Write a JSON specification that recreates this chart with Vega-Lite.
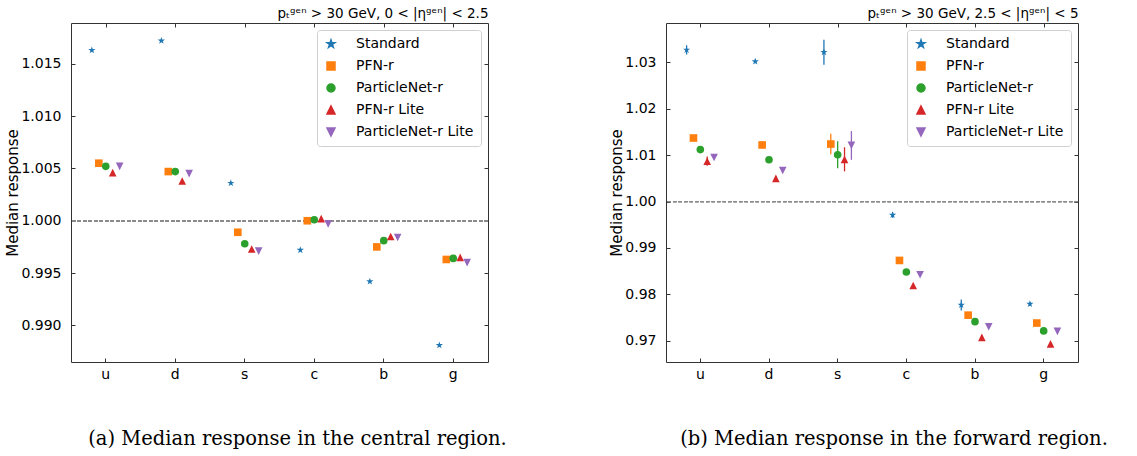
{
  "$schema": "https://vega.github.io/schema/vega-lite/v6.json",
  "padding": {"left": 5, "top": 6, "right": 5, "bottom": 0},
  "spacing": 101,
  "background": "white",
  "config": {
    "font": "DejaVu Sans",
    "view": {"stroke": "#333333", "strokeWidth": 1},
    "axis": {"domain": false, "grid": false, "tickColor": "#333333", "tickSize": -4, "tickWidth": 1, "labelFontSize": 14, "labelColor": "#000000", "titleFontSize": 15, "titleFontWeight": "normal", "titleColor": "#000000", "labelPadding": 10},
    "legend": {"titleFontSize": 0}
  },
  "datasets": {
    "central": [
      {"cat": "u", "model": "Standard", "value": 1.0163, "err": 0.00012},
      {"cat": "d", "model": "Standard", "value": 1.0172, "err": 0.00012},
      {"cat": "s", "model": "Standard", "value": 1.0036, "err": 0.00012},
      {"cat": "c", "model": "Standard", "value": 0.9972, "err": 0.00012},
      {"cat": "b", "model": "Standard", "value": 0.9942, "err": 0.00012},
      {"cat": "g", "model": "Standard", "value": 0.9881, "err": 0.00012},
      {"cat": "u", "model": "PFN-r", "value": 1.0055, "err": 0.0001},
      {"cat": "d", "model": "PFN-r", "value": 1.0047, "err": 0.0001},
      {"cat": "s", "model": "PFN-r", "value": 0.9989, "err": 0.0001},
      {"cat": "c", "model": "PFN-r", "value": 1.0000, "err": 0.0001},
      {"cat": "b", "model": "PFN-r", "value": 0.9975, "err": 0.0001},
      {"cat": "g", "model": "PFN-r", "value": 0.9963, "err": 0.0001},
      {"cat": "u", "model": "ParticleNet-r", "value": 1.0052, "err": 0.0001},
      {"cat": "d", "model": "ParticleNet-r", "value": 1.0047, "err": 0.0001},
      {"cat": "s", "model": "ParticleNet-r", "value": 0.9978, "err": 0.0001},
      {"cat": "c", "model": "ParticleNet-r", "value": 1.0001, "err": 0.0001},
      {"cat": "b", "model": "ParticleNet-r", "value": 0.9981, "err": 0.0001},
      {"cat": "g", "model": "ParticleNet-r", "value": 0.9964, "err": 0.0001},
      {"cat": "u", "model": "PFN-r Lite", "value": 1.0046, "err": 0.0001},
      {"cat": "d", "model": "PFN-r Lite", "value": 1.0038, "err": 0.0001},
      {"cat": "s", "model": "PFN-r Lite", "value": 0.9973, "err": 0.0001},
      {"cat": "c", "model": "PFN-r Lite", "value": 1.0002, "err": 0.0001},
      {"cat": "b", "model": "PFN-r Lite", "value": 0.9985, "err": 0.0001},
      {"cat": "g", "model": "PFN-r Lite", "value": 0.9965, "err": 0.0001},
      {"cat": "u", "model": "ParticleNet-r Lite", "value": 1.0052, "err": 0.0001},
      {"cat": "d", "model": "ParticleNet-r Lite", "value": 1.0045, "err": 0.0001},
      {"cat": "s", "model": "ParticleNet-r Lite", "value": 0.9971, "err": 0.0001},
      {"cat": "c", "model": "ParticleNet-r Lite", "value": 0.9997, "err": 0.0001},
      {"cat": "b", "model": "ParticleNet-r Lite", "value": 0.9984, "err": 0.0001},
      {"cat": "g", "model": "ParticleNet-r Lite", "value": 0.9960, "err": 0.0001}
    ],
    "forward": [
      {"cat": "u", "model": "Standard", "value": 1.0327, "err": 0.0010},
      {"cat": "d", "model": "Standard", "value": 1.0302, "err": 0.0004},
      {"cat": "s", "model": "Standard", "value": 1.0322, "err": 0.0027},
      {"cat": "c", "model": "Standard", "value": 0.9971, "err": 0.0006},
      {"cat": "b", "model": "Standard", "value": 0.9777, "err": 0.0012},
      {"cat": "g", "model": "Standard", "value": 0.9779, "err": 0.0004},
      {"cat": "u", "model": "PFN-r", "value": 1.0137, "err": 0.0005},
      {"cat": "d", "model": "PFN-r", "value": 1.0122, "err": 0.0003},
      {"cat": "s", "model": "PFN-r", "value": 1.0124, "err": 0.0022},
      {"cat": "c", "model": "PFN-r", "value": 0.9873, "err": 0.0003},
      {"cat": "b", "model": "PFN-r", "value": 0.9755, "err": 0.0006},
      {"cat": "g", "model": "PFN-r", "value": 0.9738, "err": 0.0003},
      {"cat": "u", "model": "ParticleNet-r", "value": 1.0112, "err": 0.0004},
      {"cat": "d", "model": "ParticleNet-r", "value": 1.0090, "err": 0.0003},
      {"cat": "s", "model": "ParticleNet-r", "value": 1.0101, "err": 0.0029},
      {"cat": "c", "model": "ParticleNet-r", "value": 0.9848, "err": 0.0003},
      {"cat": "b", "model": "ParticleNet-r", "value": 0.9741, "err": 0.0005},
      {"cat": "g", "model": "ParticleNet-r", "value": 0.9721, "err": 0.0003},
      {"cat": "u", "model": "PFN-r Lite", "value": 1.0087, "err": 0.0010},
      {"cat": "d", "model": "PFN-r Lite", "value": 1.0050, "err": 0.0004},
      {"cat": "s", "model": "PFN-r Lite", "value": 1.0091, "err": 0.0026},
      {"cat": "c", "model": "PFN-r Lite", "value": 0.9819, "err": 0.0003},
      {"cat": "b", "model": "PFN-r Lite", "value": 0.9707, "err": 0.0004},
      {"cat": "g", "model": "PFN-r Lite", "value": 0.9693, "err": 0.0003},
      {"cat": "u", "model": "ParticleNet-r Lite", "value": 1.0095, "err": 0.0004},
      {"cat": "d", "model": "ParticleNet-r Lite", "value": 1.0067, "err": 0.0003},
      {"cat": "s", "model": "ParticleNet-r Lite", "value": 1.0121, "err": 0.0031},
      {"cat": "c", "model": "ParticleNet-r Lite", "value": 0.9842, "err": 0.0003},
      {"cat": "b", "model": "ParticleNet-r Lite", "value": 0.9730, "err": 0.0003},
      {"cat": "g", "model": "ParticleNet-r Lite", "value": 0.9720, "err": 0.0003}
    ]
  },
  "resolve": {"scale": {"color": "independent", "shape": "independent", "xOffset": "independent"}},
  "hconcat": [
    {
      "width": 417,
      "height": 339,
      "data": {"name": "central"},
      "title": {"text": "(a) Median response in the central region.", "orient": "bottom", "font": "DejaVu Serif", "fontSize": 19.5, "fontWeight": "normal", "color": "#000000", "offset": 49, "anchor": "middle", "dx": 18},
      "layer": [
        {
          "mark": {"type": "rule", "color": "#8c8c8c", "strokeDash": [3.5, 2], "strokeWidth": 0.9},
          "encoding": {
            "y": {"datum": 1, "type": "quantitative", "scale": {"domain": [0.9865, 1.0189], "nice": false, "zero": false},
                  "axis": {"orient": "right", "labels": false, "title": null, "values": [0.990, 0.995, 1.000, 1.005, 1.010, 1.015]}}
          }
        },
        {
          "mark": {"type": "point", "opacity": 0},
          "encoding": {
            "x": {"field": "cat", "type": "nominal", "scale": {"domain": ["u", "d", "s", "c", "b", "g"], "paddingInner": 0, "paddingOuter": 0},
                  "axis": {"orient": "top", "labels": false, "title": "pₜᵍᵉⁿ > 30 GeV, 0 < |ηᵍᵉⁿ| < 2.5", "titleAnchor": "end", "titleFontSize": 13.5, "titlePadding": 2}}
          }
        },
        {
          "mark": {"type": "errorbar", "ticks": false, "thickness": 1.3},
          "encoding": {
            "x": {"field": "cat", "type": "nominal", "scale": {"domain": ["u", "d", "s", "c", "b", "g"], "paddingInner": 0, "paddingOuter": 0}, "axis": null},
            "xOffset": {"field": "model", "type": "nominal", "scale": {"type": "point", "domain": ["_1", "_2", "_3", "Standard", "PFN-r", "ParticleNet-r", "PFN-r Lite", "ParticleNet-r Lite", "_4", "_5", "_6"], "padding": 0}},
            "y": {"field": "value", "type": "quantitative", "scale": {"domain": [0.9865, 1.0189], "nice": false, "zero": false}, "axis": null},
            "yError": {"field": "err"},
            "color": {"field": "model", "type": "nominal", "scale": {"domain": ["Standard", "PFN-r", "ParticleNet-r", "PFN-r Lite", "ParticleNet-r Lite"], "range": ["#1f77b4", "#ff7f0e", "#2ca02c", "#d62728", "#9467bd"]}}
          }
        },
        {
          "mark": {"type": "point", "filled": true, "opacity": 1, "size": 58},
          "encoding": {
            "x": {"field": "cat", "type": "nominal", "scale": {"domain": ["u", "d", "s", "c", "b", "g"], "paddingInner": 0, "paddingOuter": 0},
                  "axis": {"labelAngle": 0, "title": null, "labelPadding": 9}},
            "xOffset": {"field": "model", "type": "nominal", "scale": {"type": "point", "domain": ["_1", "_2", "_3", "Standard", "PFN-r", "ParticleNet-r", "PFN-r Lite", "ParticleNet-r Lite", "_4", "_5", "_6"], "padding": 0}},
            "y": {"field": "value", "type": "quantitative", "scale": {"domain": [0.9865, 1.0189], "nice": false, "zero": false},
                  "axis": {"title": "Median response", "values": [0.990, 0.995, 1.000, 1.005, 1.010, 1.015], "format": ".3f", "labelPadding": 14, "titlePadding": 0}},
            "color": {"field": "model", "type": "nominal", "scale": {"domain": ["Standard", "PFN-r", "ParticleNet-r", "PFN-r Lite", "ParticleNet-r Lite"], "range": ["#1f77b4", "#ff7f0e", "#2ca02c", "#d62728", "#9467bd"]},
                      "legend": {"title": null, "orient": "top-right", "offset": 7, "padding": 7, "strokeColor": "#d0d0d0", "fillColor": "#ffffff", "cornerRadius": 3, "labelFontSize": 14, "labelColor": "#000000", "rowPadding": 8, "symbolSize": 64, "labelOffset": 18}},
            "shape": {"field": "model", "type": "nominal", "scale": {"domain": ["Standard", "PFN-r", "ParticleNet-r", "PFN-r Lite", "ParticleNet-r Lite"], "range": ["M0,-1L0.2245,-0.309L0.9511,-0.309L0.3633,0.118L0.5878,0.809L0,0.382L-0.5878,0.809L-0.3633,0.118L-0.9511,-0.309L-0.2245,-0.309Z", "square", "circle", "M0,-1L1,1L-1,1Z", "M0,1L1,-1L-1,-1Z"]},
                      "legend": {"title": null, "orient": "top-right", "offset": 7, "padding": 7, "strokeColor": "#d0d0d0", "fillColor": "#ffffff", "cornerRadius": 3, "labelFontSize": 14, "labelColor": "#000000", "rowPadding": 8, "symbolSize": 64, "labelOffset": 18}}
          }
        }
      ],
      "resolve": {"scale": {"x": "independent", "y": "independent"}}
    },
    {
      "width": 412,
      "height": 339,
      "data": {"name": "forward"},
      "title": {"text": "(b) Median response in the forward region.", "orient": "bottom", "font": "DejaVu Serif", "fontSize": 19.5, "fontWeight": "normal", "color": "#000000", "offset": 49, "anchor": "middle", "dx": 22},
      "layer": [
        {
          "mark": {"type": "rule", "color": "#8c8c8c", "strokeDash": [3.5, 2], "strokeWidth": 0.9},
          "encoding": {
            "y": {"datum": 1, "type": "quantitative", "scale": {"domain": [0.9654, 1.0385], "nice": false, "zero": false},
                  "axis": {"orient": "right", "labels": false, "title": null, "values": [0.97, 0.98, 0.99, 1.00, 1.01, 1.02, 1.03]}}
          }
        },
        {
          "mark": {"type": "point", "opacity": 0},
          "encoding": {
            "x": {"field": "cat", "type": "nominal", "scale": {"domain": ["u", "d", "s", "c", "b", "g"], "paddingInner": 0, "paddingOuter": 0},
                  "axis": {"orient": "top", "labels": false, "title": "pₜᵍᵉⁿ > 30 GeV, 2.5 < |ηᵍᵉⁿ| < 5", "titleAnchor": "end", "titleFontSize": 13.5, "titlePadding": 2}}
          }
        },
        {
          "mark": {"type": "errorbar", "ticks": false, "thickness": 1.3},
          "encoding": {
            "x": {"field": "cat", "type": "nominal", "scale": {"domain": ["u", "d", "s", "c", "b", "g"], "paddingInner": 0, "paddingOuter": 0}, "axis": null},
            "xOffset": {"field": "model", "type": "nominal", "scale": {"type": "point", "domain": ["_1", "_2", "_3", "Standard", "PFN-r", "ParticleNet-r", "PFN-r Lite", "ParticleNet-r Lite", "_4", "_5", "_6"], "padding": 0}},
            "y": {"field": "value", "type": "quantitative", "scale": {"domain": [0.9654, 1.0385], "nice": false, "zero": false}, "axis": null},
            "yError": {"field": "err"},
            "color": {"field": "model", "type": "nominal", "scale": {"domain": ["Standard", "PFN-r", "ParticleNet-r", "PFN-r Lite", "ParticleNet-r Lite"], "range": ["#1f77b4", "#ff7f0e", "#2ca02c", "#d62728", "#9467bd"]}}
          }
        },
        {
          "mark": {"type": "point", "filled": true, "opacity": 1, "size": 58},
          "encoding": {
            "x": {"field": "cat", "type": "nominal", "scale": {"domain": ["u", "d", "s", "c", "b", "g"], "paddingInner": 0, "paddingOuter": 0},
                  "axis": {"labelAngle": 0, "title": null, "labelPadding": 9}},
            "xOffset": {"field": "model", "type": "nominal", "scale": {"type": "point", "domain": ["_1", "_2", "_3", "Standard", "PFN-r", "ParticleNet-r", "PFN-r Lite", "ParticleNet-r Lite", "_4", "_5", "_6"], "padding": 0}},
            "y": {"field": "value", "type": "quantitative", "scale": {"domain": [0.9654, 1.0385], "nice": false, "zero": false},
                  "axis": {"title": "Median response", "values": [0.97, 0.98, 0.99, 1.00, 1.01, 1.02, 1.03], "format": ".2f", "labelPadding": 14, "titlePadding": 0}},
            "color": {"field": "model", "type": "nominal", "scale": {"domain": ["Standard", "PFN-r", "ParticleNet-r", "PFN-r Lite", "ParticleNet-r Lite"], "range": ["#1f77b4", "#ff7f0e", "#2ca02c", "#d62728", "#9467bd"]},
                      "legend": {"title": null, "orient": "top-right", "offset": 7, "padding": 7, "strokeColor": "#d0d0d0", "fillColor": "#ffffff", "cornerRadius": 3, "labelFontSize": 14, "labelColor": "#000000", "rowPadding": 8, "symbolSize": 64, "labelOffset": 18}},
            "shape": {"field": "model", "type": "nominal", "scale": {"domain": ["Standard", "PFN-r", "ParticleNet-r", "PFN-r Lite", "ParticleNet-r Lite"], "range": ["M0,-1L0.2245,-0.309L0.9511,-0.309L0.3633,0.118L0.5878,0.809L0,0.382L-0.5878,0.809L-0.3633,0.118L-0.9511,-0.309L-0.2245,-0.309Z", "square", "circle", "M0,-1L1,1L-1,1Z", "M0,1L1,-1L-1,-1Z"]},
                      "legend": {"title": null, "orient": "top-right", "offset": 7, "padding": 7, "strokeColor": "#d0d0d0", "fillColor": "#ffffff", "cornerRadius": 3, "labelFontSize": 14, "labelColor": "#000000", "rowPadding": 8, "symbolSize": 64, "labelOffset": 18}}
          }
        }
      ],
      "resolve": {"scale": {"x": "independent", "y": "independent"}}
    }
  ]
}
